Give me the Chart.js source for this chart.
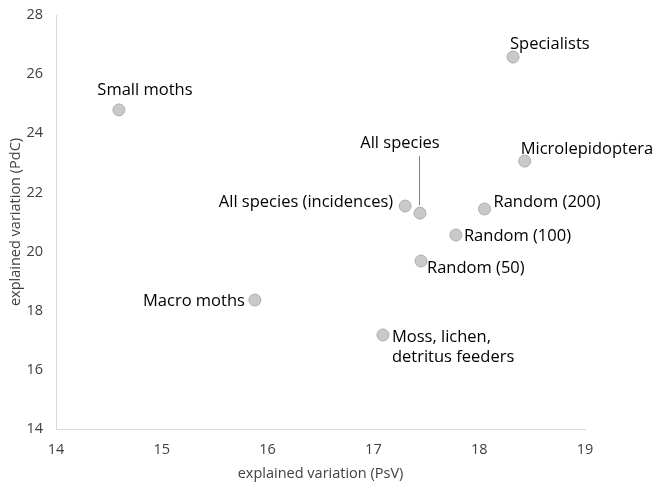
<!DOCTYPE html>
<html>
<head>
<meta charset="utf-8">
<script src="https://cdn.jsdelivr.net/npm/chart.js@4/dist/chart.umd.min.js"></script>
<style>
html,body{margin:0;padding:0;background:#fff;}
#wrap{width:656px;height:483px;}
</style>
</head>
<body>
<div id="wrap"><canvas id="c" width="656" height="483"></canvas></div>
<script>
const groups = ["Small moths","Specialists","Microlepidoptera","All species (incidences)","All species","Random (200)","Random (100)","Random (50)","Macro moths","Moss, lichen,\ndetritus feeders"];
const psv = [14.595, 18.32, 18.43, 17.30, 17.44, 18.05, 17.78, 17.45, 15.88, 17.09];
const pdc = [24.79, 26.58, 23.06, 21.54, 21.30, 21.44, 20.56, 19.68, 18.36, 17.18];
const xTicks = [14,15,16,17,18,19];
const yTicks = [14,16,18,20,22,24,26,28];

// label placement: [dx, dy, align]
const labelPlace = [
  [26,-20,'center'],
  [-3,-13,'left'],
  [-4,-12,'left'],
  [-12,-4,'right'],
  [-20,-70,'center'],
  [9,-7,'left'],
  [8,1,'left'],
  [6,7,'left'],
  [-10,1,'right'],
  [9,2,'left']
];

const FONT = '"Open Sans", Lato, sans-serif';

const labelPlugin = {
  id:'labels',
  afterDatasetsDraw(chart){
    const ctx = chart.ctx;
    const meta = chart.getDatasetMeta(0);
    ctx.save();
    ctx.font = '16.5px ' + FONT;
    ctx.fillStyle = '#000';
    ctx.textBaseline = 'middle';
    meta.data.forEach((pt,i)=>{
      const [dx,dy,al] = labelPlace[i];
      ctx.textAlign = al;
      const lines = groups[i].split('\n');
      lines.forEach((ln,j)=>{
        ctx.fillText(ln, pt.x+dx, pt.y+dy+j*20);
      });
      if (i===4){
        ctx.strokeStyle = '#7f7f7f';
        ctx.lineWidth = 1;
        ctx.beginPath();
        ctx.moveTo(Math.round(pt.x)-0.5, pt.y-57);
        ctx.lineTo(Math.round(pt.x)-0.5, pt.y-8);
        ctx.stroke();
      }
    });
    ctx.restore();
  }
};

new Chart(document.getElementById('c'),{
  type:'scatter',
  data:{
    datasets:[{
      data: psv.map((x,i)=>({x:x,y:pdc[i]})),
      backgroundColor:'#c9c9c9',
      borderColor:'#adadad',
      borderWidth:1,
      pointRadius:6,
      pointHoverRadius:6
    }]
  },
  options:{
    responsive:false,
    animation:false,
    layout:{padding:{top:15,right:71,bottom:0,left:0}},
    plugins:{legend:{display:false},tooltip:{enabled:false}},
    scales:{
      x:{
        type:'linear',min:14,max:19,
        afterBuildTicks(s){s.ticks = xTicks.map(v=>({value:v}));},
        afterFit(s){s.height = 54; s.paddingLeft = 0; s.paddingRight = 0;},
        grid:{display:false,drawTicks:false},
        border:{display:true,color:'#d9d9d9',width:1},
        ticks:{color:'#404040',font:{size:14.5,family:FONT},padding:12,maxRotation:0},
        title:{display:true,text:'explained variation (PsV)',color:'#404040',font:{size:14.5,family:FONT},padding:{top:1,bottom:0}}
      },
      y:{
        type:'linear',min:14,max:28,
        afterBuildTicks(s){s.ticks = yTicks.map(v=>({value:v}));},
        afterFit(s){s.width = 56; s.paddingTop = 0; s.paddingBottom = 0;},
        grid:{display:false,drawTicks:false},
        border:{display:true,color:'#d9d9d9',width:1},
        ticks:{color:'#404040',font:{size:14.5,family:FONT},padding:13},
        title:{display:true,text:'explained variation (PdC)',color:'#404040',font:{size:14.5,family:FONT},padding:{top:7,bottom:0}}
      }
    }
  },
  plugins:[labelPlugin]
});
</script>
</body>
</html>
